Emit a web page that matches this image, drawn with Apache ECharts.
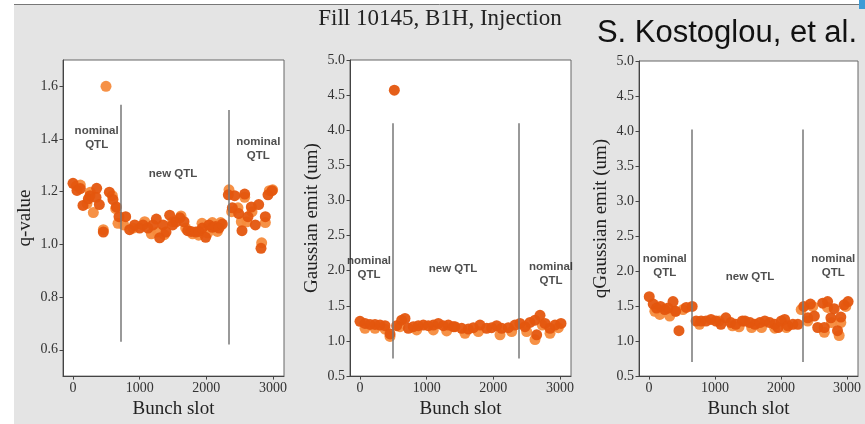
<!DOCTYPE html>
<html>
<head>
<meta charset="utf-8">
<script src="https://cdn.jsdelivr.net/npm/echarts@6/dist/echarts.min.js"></script>
<style>
html,body{margin:0;padding:0;background:#fff;}
#c{width:865px;height:424px;}
</style>
</head>
<body>
<div id="c"></div>
<script>
// ---------- DATA ----------
const mainTitle = 'Fill 10145, B1H, Injection';
const authorText = 'S. Kostoglou, et al.';
const xTicks = [0, 1000, 2000, 3000];
const yTicksQ = [0.6, 0.8, 1.0, 1.2, 1.4, 1.6];
const yNames = ['q-value', 'Gaussian emit (um)', 'qGaussian emit (um)'];
const xName = 'Bunch slot';

// Panel 1: q-value
const qLight = [[50,1.222],[110,1.225],[210,1.155],[260,1.198],[305,1.121],[455,1.056],[495,1.60],[590,1.185],[640,1.136],[675,1.080],[760,1.074],[900,1.062],[1075,1.086],[1175,1.040],[1270,1.047],[1370,1.037],[1495,1.086],[1620,1.108],[1690,1.062],[1795,1.040],[1885,1.035],[1935,1.080],[2020,1.043],[2090,1.083],[2165,1.049],[2215,1.083],[2340,1.207],[2380,1.124],[2475,1.139],[2525,1.086],[2575,1.179],[2610,1.086],[2685,1.124],[2830,1.006],[2885,1.083],[2945,1.204],[2995,1.207]];
const qDark = [[0,1.232],[60,1.205],[110,1.212],[150,1.148],[230,1.173],[255,1.185],[345,1.179],[355,1.213],[395,1.151],[455,1.047],[545,1.198],[600,1.170],[650,1.142],[690,1.105],[790,1.105],[850,1.056],[925,1.074],[1000,1.062],[1050,1.074],[1125,1.062],[1200,1.074],[1250,1.096],[1300,1.025],[1350,1.074],[1395,1.047],[1450,1.111],[1495,1.074],[1545,1.086],[1605,1.101],[1665,1.086],[1720,1.052],[1770,1.049],[1840,1.047],[1890,1.049],[1940,1.062],[1990,1.027],[2040,1.074],[2090,1.065],[2140,1.068],[2190,1.062],[2240,1.077],[2330,1.188],[2390,1.139],[2425,1.185],[2485,1.117],[2535,1.052],[2575,1.191],[2625,1.105],[2675,1.142],[2735,1.074],[2785,1.151],[2820,0.985],[2885,1.105],[2925,1.188],[2985,1.204]];

// Panel 2: Gaussian emittance
const gLight = [[75,1.18],[225,1.18],[375,1.17],[450,1.065],[600,1.204],[850,1.157],[1100,1.157],[1300,1.143],[1575,1.11],[1775,1.134],[2100,1.088],[2275,1.134],[2500,1.134],[2625,1.02],[2735,1.227],[2850,1.11],[2975,1.19]];
const gDark = [[0,1.28],[75,1.25],[150,1.236],[225,1.236],[300,1.227],[375,1.218],[450,1.10],[515,4.57],[550,1.218],[625,1.296],[675,1.32],[725,1.18],[800,1.204],[875,1.218],[950,1.227],[1025,1.218],[1100,1.227],[1175,1.25],[1250,1.218],[1325,1.227],[1400,1.204],[1425,1.204],[1525,1.18],[1625,1.17],[1700,1.19],[1800,1.227],[1900,1.18],[1975,1.19],[2050,1.218],[2125,1.18],[2225,1.19],[2325,1.227],[2400,1.25],[2475,1.204],[2550,1.264],[2625,1.296],[2650,1.088],[2700,1.366],[2775,1.25],[2850,1.18],[2925,1.227],[3015,1.25]];

// Panel 3: qGaussian emittance
const qgLight = [[90,1.426],[165,1.38],[315,1.357],[390,1.426],[515,1.45],[765,1.24],[1065,1.287],[1265,1.218],[1365,1.204],[1555,1.194],[1705,1.194],[1905,1.185],[2080,1.194],[2305,1.45],[2405,1.287],[2480,1.495],[2655,1.125],[2705,1.48],[2765,1.264],[2880,1.08],[2905,1.264],[2980,1.495]];
const qgDark = [[5,1.634],[65,1.528],[115,1.472],[175,1.495],[240,1.45],[290,1.472],[365,1.565],[405,1.426],[455,1.148],[565,1.48],[655,1.495],[715,1.287],[790,1.287],[865,1.287],[940,1.31],[1015,1.287],[1090,1.24],[1165,1.333],[1240,1.264],[1315,1.24],[1415,1.287],[1455,1.287],[1530,1.264],[1605,1.24],[1680,1.264],[1755,1.287],[1830,1.264],[1905,1.24],[1955,1.194],[2005,1.287],[2055,1.31],[2105,1.218],[2180,1.24],[2255,1.24],[2345,1.495],[2405,1.333],[2445,1.528],[2505,1.357],[2555,1.194],[2630,1.542],[2655,1.194],[2705,1.565],[2755,1.333],[2805,1.463],[2855,1.148],[2905,1.343],[2955,1.518],[3015,1.565]];

// Region separators: [x, yTop, yBottom]
const sepQ = [[715,1.53,0.63],[2330,1.51,0.62]];
const sepG = [[485,4.1,0.75],[2380,4.1,0.75]];
const sepQG = [[655,4.02,0.70],[2335,4.02,0.70]];

// Region labels: [x, y, text]
const labQ = [[355,1.404,'nominal\nQTL'],[1500,1.267,'new QTL'],[2780,1.363,'nominal\nQTL']];
const labG = [[135,2.04,'nominal\nQTL'],[1395,2.03,'new QTL'],[2865,1.95,'nominal\nQTL']];
const labQG = [[240,2.08,'nominal\nQTL'],[1530,1.92,'new QTL'],[2790,2.08,'nominal\nQTL']];

// ---------- CHART ----------
const serif = '"Liberation Serif", "DejaVu Serif", serif';
const darkC = '#e4560e';
const lightC = '#f68b3c';
const chart = echarts.init(document.getElementById('c'), null, {renderer: 'canvas'});

const grids = [
  {left: 63, width: 221, top: 60, height: 326},
  {left: 350, width: 221, top: 60, height: 326},
  {left: 639, width: 219, top: 61, height: 324}
];
const yRanges = [[0.5, 1.7], [0.5, 5.0], [0.5, 5.0]];

function xAxis(i) {
  return {
    gridIndex: i, type: 'value', min: -150, max: 3165,
    name: xName, nameLocation: 'middle', nameGap: 20,
    nameTextStyle: {fontFamily: serif, fontSize: 19, color: '#222'},
    axisLine: {show: true, onZero: false, lineStyle: {color: '#444', width: 1}},
    axisTick: {show: true, length: 3.5, customValues: xTicks, lineStyle: {color: '#444'}},
    axisLabel: {customValues: xTicks, fontFamily: serif, fontSize: 14, color: '#333', margin: 5,
      formatter: v => String(Math.round(v))},
    splitLine: {show: false}
  };
}
function yAxis(i) {
  const ax = {
    gridIndex: i, type: 'value', min: yRanges[i][0], max: yRanges[i][1],
    name: yNames[i], nameLocation: 'middle', nameGap: 28,
    nameTextStyle: {fontFamily: serif, fontSize: 19, color: '#222'},
    axisLine: {show: true, onZero: false, lineStyle: {color: '#444', width: 1}},
    axisTick: {show: true, length: 3.5, lineStyle: {color: '#444'}},
    axisLabel: {fontFamily: serif, fontSize: 14, color: '#333', margin: 5,
      formatter: v => v.toFixed(1)},
    splitLine: {show: false}
  };
  if (i === 0) {
    ax.axisTick.customValues = yTicksQ;
    ax.axisLabel.customValues = yTicksQ;
  } else {
    ax.interval = 0.5;
  }
  return ax;
}
function pts(i, data, color) {
  return {type: 'scatter', xAxisIndex: i, yAxisIndex: i, data: data, symbolSize: 11,
    itemStyle: {color: color, opacity: 0.95}, silent: true, z: 3};
}
function seps(i, arr) {
  return {type: 'scatter', xAxisIndex: i, yAxisIndex: i, data: [], silent: true,
    markLine: {symbol: ['none', 'none'], silent: true, animation: false,
      label: {show: false},
      lineStyle: {color: '#777', width: 1.5, type: 'solid'},
      data: arr.map(s => [{coord: [s[0], s[1]]}, {coord: [s[0], s[2]]}])}};
}
function labs(i, arr) {
  return {type: 'scatter', xAxisIndex: i, yAxisIndex: i, symbolSize: 0, silent: true, z: 5,
    data: arr.map(a => ({value: [a[0], a[1]], name: a[2]})),
    label: {show: true, position: 'inside', formatter: p => p.name,
      fontFamily: 'Liberation Sans, Arial, sans-serif', fontWeight: 'bold', fontSize: 11.5,
      lineHeight: 14, color: '#222', align: 'center'}};
}

const option = {
  animation: false,
  backgroundColor: '#ffffff',
  graphic: [
    {type: 'rect', shape: {x: 14, y: 4, width: 851, height: 420}, style: {fill: '#e4e4e4'}, z: -10},
    {type: 'line', shape: {x1: 14, y1: 4.5, x2: 865, y2: 4.5}, style: {stroke: '#777', lineWidth: 1}, z: -9},
    {type: 'rect', shape: {x: 859, y: 0, width: 6, height: 9}, style: {fill: '#3d9bd6'}, z: -8},
    {type: 'text', x: 440, y: 19, style: {text: mainTitle, font: '23px ' + serif, fill: '#222', align: 'center', verticalAlign: 'middle'}},
    {type: 'text', x: 727, y: 33, style: {text: authorText, font: '31px "Liberation Sans", Arial, sans-serif', fill: '#111', align: 'center', verticalAlign: 'middle'}}
  ],
  grid: grids.map(g => Object.assign({show: true, backgroundColor: '#ffffff', borderColor: '#666', borderWidth: 1}, g)),
  xAxis: [0, 1, 2].map(xAxis),
  yAxis: [0, 1, 2].map(yAxis),
  series: [
    pts(0, qLight, lightC), pts(0, qDark, darkC), seps(0, sepQ), labs(0, labQ),
    pts(1, gLight, lightC), pts(1, gDark, darkC), seps(1, sepG), labs(1, labG),
    pts(2, qgLight, lightC), pts(2, qgDark, darkC), seps(2, sepQG), labs(2, labQG)
  ]
};
chart.setOption(option);
</script>
</body>
</html>
